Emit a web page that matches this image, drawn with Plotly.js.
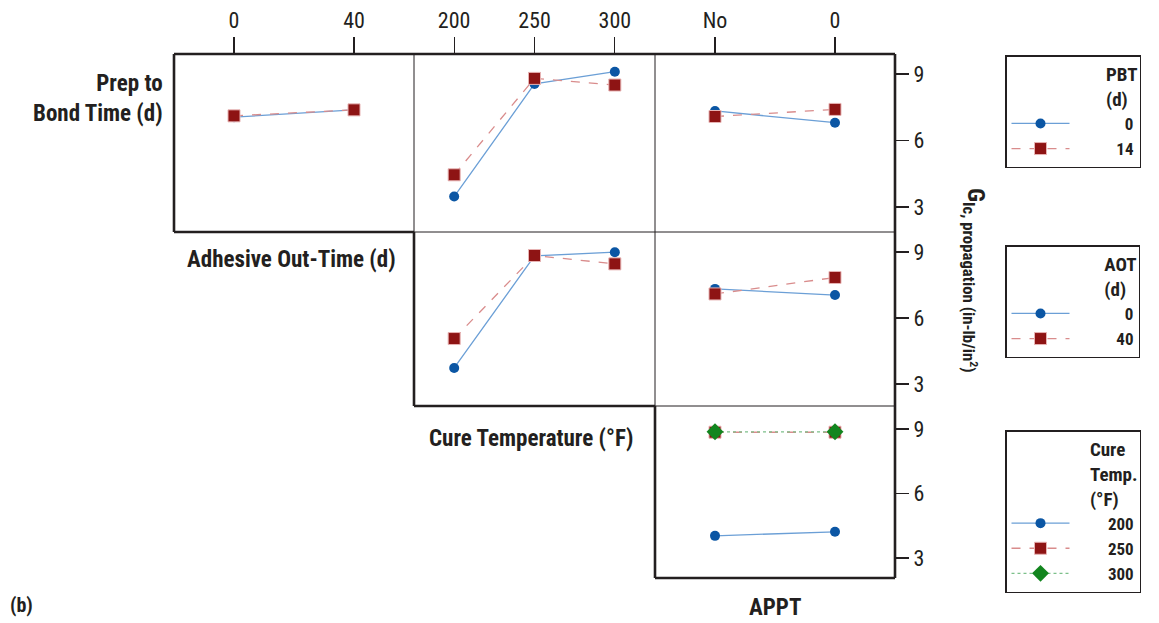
<!DOCTYPE html>
<html><head><meta charset="utf-8">
<script src="https://cdn.plot.ly/plotly-3.0.1.min.js"></script>
<style>html,body{margin:0;padding:0;background:#fff}</style>
</head><body><div id="chart" style="width:1159px;height:623px"></div>
<script>
// ---- data ----
const aotLevels = ["0", "40"];
const cureLevels = ["200", "250", "300"];
const apptLevels = ["No", "0"];

// Row 1: lines by PBT (0, 14)
const pbt0_vsAOT = [7.05, 7.38];
const pbt14_vsAOT = [7.11, 7.38];
const pbt0_vsCure = [3.47, 8.55, 9.1];
const pbt14_vsCure = [4.45, 8.8, 8.5];
const pbt0_vsAPPT = [7.33, 6.8];
const pbt14_vsAPPT = [7.08, 7.4];
// Row 2: lines by AOT (0, 40)
const aot0_vsCure = [3.73, 8.83, 9.0];
const aot40_vsCure = [5.07, 8.85, 8.47];
const aot0_vsAPPT = [7.33, 7.05];
const aot40_vsAPPT = [7.1, 7.85];
// Row 3: lines by cure temperature (200, 250, 300)
const cure200_vsAPPT = [4.04, 4.23];
const cure250_vsAPPT = [8.86, 8.86];
const cure300_vsAPPT = [8.88, 8.88];

const yTicks = [3, 6, 9];

// legend labels (figure spaces keep them right-aligned like the original)
const FS = "\u2007";
const pad = s => FS.repeat(Math.max(0, 7 - s.length)) + s;

// ---- styles ----
const FONT = "Liberation Sans Narrow, Roboto Condensed, Liberation Sans, Arial, sans-serif";
const INK = "#231f20";
const sBlue = {line:{color:"#6b9fd6", width:1.3, dash:"solid"}, marker:{symbol:"circle", size:10, color:"#0b56a4"}};
const sRed = {line:{color:"#d98c8c", width:1.3, dash:"dash"}, marker:{symbol:"square", size:12, color:"#8e1414", line:{color:"#e7b3b3", width:1}}};
const sGreen = {line:{color:"#7cc08a", width:1.3, dash:"dot"}, marker:{symbol:"diamond", size:13, color:"#12851e"}};

function tr(x, y, xa, ya, st, name, leg, show){
  return Object.assign({type:"scatter", mode:"lines+markers", x:x, y:y, xaxis:xa, yaxis:ya,
    name:pad(name), legend:leg, showlegend:!!show, hoverinfo:"x+y"}, JSON.parse(JSON.stringify(st)));
}

const traces = [
  // row 1
  tr(aotLevels, pbt0_vsAOT, "x", "y", sBlue, "0", "legend", true),
  tr(aotLevels, pbt14_vsAOT, "x", "y", sRed, "14", "legend", true),
  tr(cureLevels, pbt0_vsCure, "x2", "y", sBlue, "0", "legend"),
  tr(cureLevels, pbt14_vsCure, "x2", "y", sRed, "14", "legend"),
  tr(apptLevels, pbt0_vsAPPT, "x3", "y", sBlue, "0", "legend"),
  tr(apptLevels, pbt14_vsAPPT, "x3", "y", sRed, "14", "legend"),
  // row 2
  tr(cureLevels, aot0_vsCure, "x2", "y2", sBlue, "0", "legend2", true),
  tr(cureLevels, aot40_vsCure, "x2", "y2", sRed, "40", "legend2", true),
  tr(apptLevels, aot0_vsAPPT, "x3", "y2", sBlue, "0", "legend2"),
  tr(apptLevels, aot40_vsAPPT, "x3", "y2", sRed, "40", "legend2"),
  // row 3
  tr(apptLevels, cure200_vsAPPT, "x3", "y3", sBlue, "200", "legend3", true),
  tr(apptLevels, cure250_vsAPPT, "x3", "y3", sRed, "250", "legend3", true),
  tr(apptLevels, cure300_vsAPPT, "x3", "y3", sGreen, "300", "legend3", true)
];

// ---- geometry (pixels -> paper) ----
const W = 1159, H = 623, L = 174, R = 895, T = 54, B = 578;
const px = v => (v - L) / (R - L);
const py = v => (B - v) / (B - T);

function xAxis(domain, levels){
  return {domain:domain, type:"category", categoryorder:"array", categoryarray:levels,
    range:[-0.5, levels.length - 0.5], side:"top", anchor:"y", ticks:"outside", ticklen:16, tickwidth:1.3,
    tickcolor:INK, showgrid:false, zeroline:false, showline:false, fixedrange:true,
    tickfont:{family:FONT, size:22, color:INK}};
}
function yAxis(domain, range){
  return {domain:domain, range:range, side:"right", anchor:"x3", tickvals:yTicks, ticks:"outside",
    ticklen:13, tickwidth:1.5, tickcolor:INK, showgrid:false, zeroline:false, showline:false,
    tickfont:{family:FONT, size:22, color:INK}, fixedrange:true};
}

function seg(x0, y0, x1, y1, w){
  return {type:"line", xref:"paper", yref:"paper", x0:px(x0), y0:py(y0), x1:px(x1), y1:py(y1),
    line:{color:INK, width:w}, layer:"above"};
}
const thick = 2.6, thin = 1;
const shapes = [
  seg(414, 54, 414, 232, thin),
  seg(414, 232, 895, 232, thin),
  seg(655, 54, 655, 406, thin),
  seg(655, 406, 895, 406, thin),
  seg(174, 54, 895, 54, thick),
  seg(895, 54, 895, 578, thick),
  seg(655, 578, 895, 578, thick),
  seg(655, 406, 655, 578, thick),
  seg(414, 406, 655, 406, thick),
  seg(414, 232, 414, 406, thick),
  seg(174, 232, 414, 232, thick),
  seg(174, 54, 174, 232, thick)
];

function ann(text, x, y, xanchor, extra){
  return Object.assign({text:text, xref:"paper", yref:"paper", x:px(x), y:py(y), xanchor:xanchor,
    yanchor:"middle", showarrow:false, font:{family:FONT, size:23, color:INK}}, extra || {});
}
const annotations = [
  ann("<b>Prep to<br>Bond Time (d)</b>", 165, 98, "right", {align:"right"}),
  ann("<b>Adhesive Out-Time (d)</b>", 291, 259, "center"),
  ann("<b>Cure Temperature (°F)</b>", 531, 438, "center"),
  ann("<b>APPT</b>", 775, 607, "center"),
  ann("<b>(b)</b>", 8, 605, "left", {font:{family:FONT, size:20, color:INK}}),
  ann("<b>G<sub>Ic, propagation (in-lb/in<sup>2</sup>)</sub></b>", 975, 280, "center",
      {textangle:90, font:{family:FONT, size:24, color:INK}})
];

function legendCfg(title, ytop){
  return {title:{text:"<b>" + title + "</b>", side:"top right", font:{family:FONT, size:19, color:INK}},
    x:px(1005), y:py(ytop), xanchor:"left", yanchor:"top", xref:"paper", yref:"paper",
    bgcolor:"#fff", bordercolor:INK, borderwidth:1.5, itemwidth:58,
    font:{family:FONT, size:17, color:INK, weight:"bold"}, tracegroupgap:0, itemclick:false};
}

const layout = {
  width:W, height:H, margin:{l:L, r:W - R, t:T, b:H - B, pad:0},
  paper_bgcolor:"#fff", plot_bgcolor:"#fff", font:{family:FONT, color:INK},
  xaxis:xAxis([0, px(414)], aotLevels),
  xaxis2:xAxis([px(414), px(655)], cureLevels),
  xaxis3:xAxis([px(655), 1], apptLevels),
  yaxis:yAxis([py(232), 1], [1.87, 9.9]),
  yaxis2:yAxis([py(406), py(232)], [2.0, 9.92]),
  yaxis3:yAxis([0, py(406)], [2.08, 10.08]),
  shapes:shapes, annotations:annotations,
  legend:legendCfg("PBT<br>(d)", 55),
  legend2:legendCfg("AOT<br>(d)", 245),
  legend3:legendCfg("Cure<br>Temp.<br>(°F)", 430)
};

Plotly.newPlot("chart", traces, layout, {displayModeBar:false, staticPlot:true});
</script></body></html>
